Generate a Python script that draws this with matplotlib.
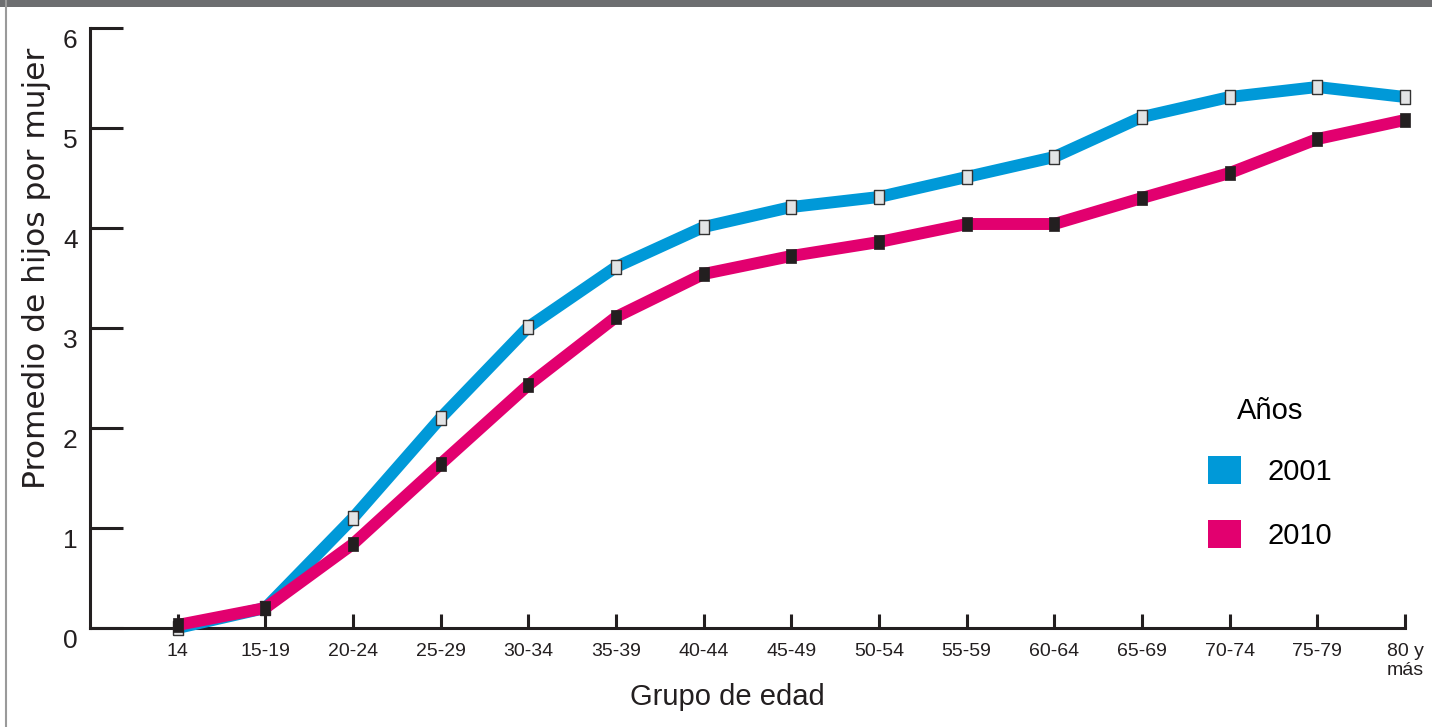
import numpy as np
import matplotlib
matplotlib.use("Agg")
import matplotlib.pyplot as plt
from matplotlib.patches import Patch, Rectangle
from matplotlib.lines import Line2D
from matplotlib.transforms import ScaledTranslation

plt.rcParams["font.family"] = ["Liberation Sans", "DejaVu Sans"]

grupos = ["14", "15-19", "20-24", "25-29", "30-34", "35-39", "40-44", "45-49",
          "50-54", "55-59", "60-64", "65-69", "70-74", "75-79", "80 y\nmás"]
hijos_2001 = [0.0, 0.20, 1.10, 2.10, 3.01, 3.61, 4.01, 4.21, 4.31, 4.51,
              4.71, 5.11, 5.31, 5.41, 5.31]
hijos_2010 = [0.03, 0.20, 0.84, 1.64, 2.43, 3.11, 3.54, 3.72, 3.86, 4.04,
              4.04, 4.30, 4.55, 4.89, 5.08]

azul = "#0099d8"
magenta = "#e2006f"
negro = "#231f20"

fig = plt.figure(figsize=(14.32, 7.27), dpi=100)
ax = fig.add_axes([90 / 1432, 99 / 727, 1315 / 1432, 600 / 727])

x = np.arange(len(grupos))
# marcador rectangular (mas alto que ancho)
rect = [(-0.36, -0.5), (0.36, -0.5), (0.36, 0.5), (-0.36, 0.5), (-0.36, -0.5)]

ax.plot(x, hijos_2001, color=azul, lw=8.6, solid_capstyle="butt", zorder=3,
        marker=rect, ms=9.6, mfc="#e3e4e5", mec="#333333", mew=1.0, clip_on=False)
ax.plot(x, hijos_2010, color=magenta, lw=8.6, solid_capstyle="butt", zorder=4,
        marker=rect, ms=10.2, mfc=negro, mec=negro, mew=0.5, clip_on=False)

ax.set_xlim(-1, 14)
ax.set_ylim(0, 6)
ax.set_xticks(x)
ax.set_xticklabels(grupos, fontsize=14, color=negro, linespacing=1.15)
ax.set_yticks(range(7))
ax.set_yticklabels([str(i) for i in range(7)], fontsize=19, color=negro)

for s in ["top", "right"]:
    ax.spines[s].set_visible(False)
for s in ["left", "bottom"]:
    ax.spines[s].set_linewidth(2.2)
    ax.spines[s].set_color(negro)
    ax.spines[s].set_capstyle("projecting")

ax.tick_params(axis="x", direction="in", length=10, width=2.2, color=negro, pad=11)
ax.tick_params(axis="y", direction="in", length=24, width=2.2, color=negro, pad=9)

# etiquetas del eje y un poco mas abajo que las marcas
off = ScaledTranslation(0, -0.10, fig.dpi_scale_trans)
for lab in ax.get_yticklabels():
    lab.set_transform(lab.get_transform() + off)

ax.set_xlabel("Grupo de edad", fontsize=21, color=negro, va="center")
ax.xaxis.set_label_coords(0.485, -0.115)
ax.set_ylabel("Promedio de hijos por mujer", fontsize=22.5, color=negro, va="center",
              family="DejaVu Sans")
ax.yaxis.set_label_coords(-0.041, 0.6)

handles = [Patch(facecolor=azul, label="2001"), Patch(facecolor=magenta, label="2010")]
leg = ax.legend(handles=handles, title="Años", fontsize=21, title_fontsize=21,
                frameon=False, loc="upper left",
                bbox_to_anchor=(1208 / 1432, 1 - 397 / 727), bbox_transform=fig.transFigure,
                borderaxespad=0, borderpad=0, handlelength=1.13, handleheight=1.13,
                handletextpad=0.9, labelspacing=1.17)
leg._legend_box.sep = 22

# marco: franja gris arriba y linea a la izquierda
fig.patches.append(Rectangle((0, 1 - 7 / 727), 1, 7 / 727, transform=fig.transFigure,
                             facecolor="#6d6e70", edgecolor="none"))
fig.lines.append(Line2D([5.5 / 1432, 5.5 / 1432], [0, 1], transform=fig.transFigure,
                        color="#9a9a9a", lw=1.5))

fig.savefig("out.png", dpi=100)
